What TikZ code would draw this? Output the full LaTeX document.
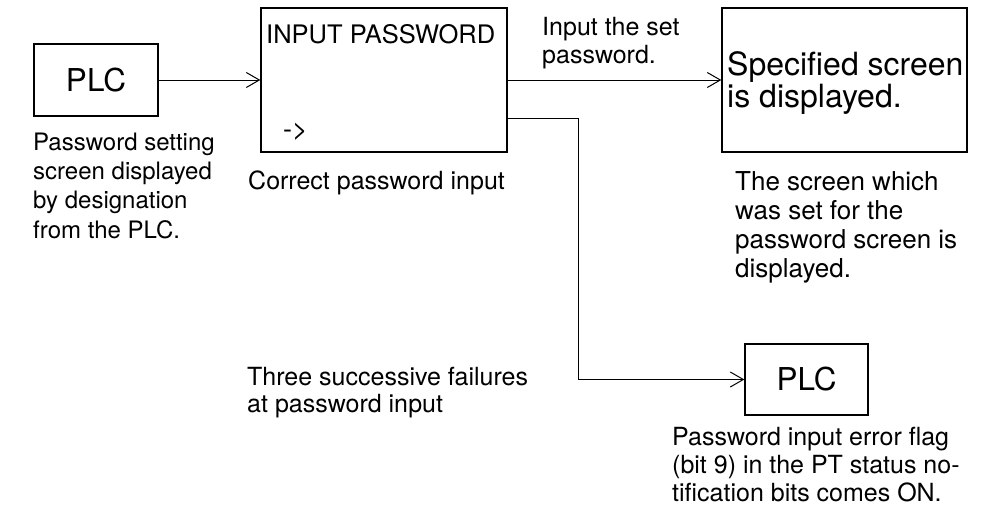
\documentclass[tikz,border=0pt]{standalone}
\usepackage{fontspec}
\setmainfont{TeX Gyre Heros}
\usetikzlibrary{arrows.meta}
\begin{document}
\begin{tikzpicture}[x=1pt,y=-1pt,
  box/.style={draw,line width=1.4pt,inner sep=0pt},
  arr/.style={line width=1pt,-{Straight Barb[length=13pt,width=15pt,line width=1pt]}},
  txt/.style={anchor=base west,inner sep=0pt,align=left,font=\fontsize{25}{29}\selectfont},
  big/.style={font=\fontsize{31.5}{31.5}\selectfont}]
\useasboundingbox (0,0) rectangle (984,506);
% boxes
\node[box,minimum width=124pt,minimum height=72pt,big] (plc1) at (96,80) {PLC};
\node[box,minimum width=246pt,minimum height=144pt] (ip) at (384,80) {};
\node[box,minimum width=245pt,minimum height=144pt] (spec) at (844.5,80) {};
\node[box,minimum width=123pt,minimum height=71pt,big] (plc2) at (806.5,379.5) {PLC};
% box texts (base anchor = baseline of last line)
\node[txt,font=\fontsize{25.5}{29}\selectfont] (iptitle) at (266,43) {INPUT PASSWORD};
\node[txt,font=\fontsize{27}{29}\selectfont] (prompt) at (283,138) {->};
\node[txt,font=\fontsize{32}{32}\selectfont] (spectext) at (727,107) {Specified screen\\is displayed.};
% connectors
\coordinate (fork) at (578,118);
\draw[arr] (plc1.east) -- (ip.west);
\draw[arr] (ip.east) -- (spec.west);
\draw[arr] (ip.east |- fork) -- (fork) |- (plc2.west);
% captions
\node[txt,font=\fontsize{24}{29.3}\selectfont] (cap1) at (33,238) {Password setting\\screen displayed\\by designation\\from the PLC.};
\node[txt] (cap2) at (248,189) {Correct password input};
\node[txt,font=\fontsize{25}{28.5}\selectfont] (cap3) at (542,63.5) {Input the set\\password.};
\node[txt,font=\fontsize{26}{29}\selectfont] (cap4) at (735,277) {The screen which\\was set for the\\password screen is\\displayed.};
\node[txt,font=\fontsize{25}{27.5}\selectfont] (cap5) at (247,412.5) {Three successive failures\\at password input};
\node[txt,font=\fontsize{25}{28}\selectfont] (cap6) at (672,501) {Password input error flag\\(bit 9) in the PT status no-\\tification bits comes ON.};
\end{tikzpicture}
\end{document}
